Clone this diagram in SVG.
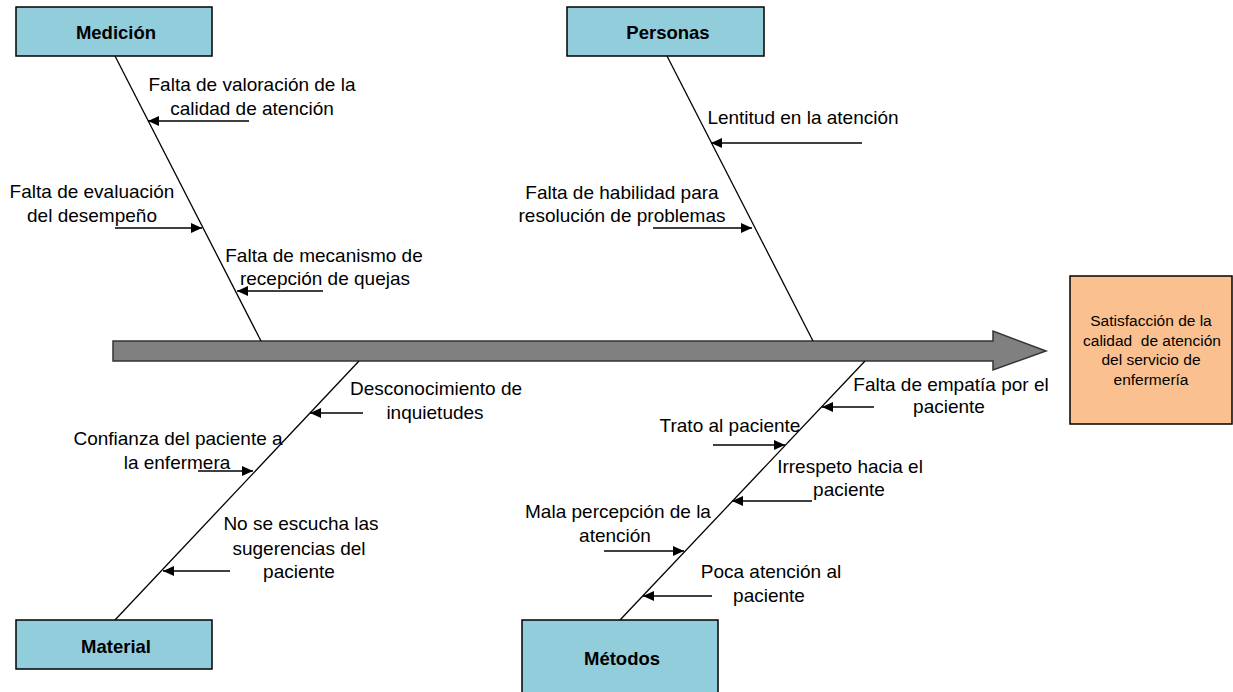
<svg xmlns="http://www.w3.org/2000/svg" width="1233" height="692" viewBox="0 0 1233 692">
<defs>
<marker id="ah" markerUnits="userSpaceOnUse" markerWidth="12" markerHeight="10" refX="11" refY="5" orient="auto">
<path d="M0,0 L11,5 L0,10 Z" fill="#000"/>
</marker>
<style>
.cat{fill:#92CDDC;stroke:#000;stroke-width:1.5}
.ct{font-family:"Liberation Sans",Arial,sans-serif;font-weight:bold;font-size:18.5px;text-anchor:middle;fill:#000}
.t{font-family:"Liberation Sans",Arial,sans-serif;font-size:19px;text-anchor:middle;fill:#000}
.bone{stroke:#000;stroke-width:1.3;fill:none}
.arr{stroke:#000;stroke-width:1.3;fill:none;marker-end:url(#ah)}
.et{font-family:"Liberation Sans",Arial,sans-serif;font-size:15.5px;text-anchor:middle;fill:#000}
</style>
</defs>
<rect width="1233" height="692" fill="#fff"/>

<g id="spine">
<polygon points="113,341 993,341 993,331 1046,351 993,370 993,361 113,361" fill="#808080" stroke="#333" stroke-width="1.5"/>
</g>

<g id="connectors">
<line class="bone" x1="115" y1="56" x2="261" y2="341"/>
<line class="bone" x1="667" y1="56" x2="813" y2="341"/>
<line class="bone" x1="359" y1="361" x2="115" y2="620"/>
<line class="bone" x1="865" y1="361" x2="620" y2="620"/>
<line class="arr" x1="249" y1="121" x2="148" y2="121"/>
<line class="arr" x1="115" y1="228" x2="202" y2="228"/>
<line class="arr" x1="323" y1="291" x2="237" y2="291"/>
<line class="arr" x1="862" y1="143" x2="711" y2="143"/>
<line class="arr" x1="653" y1="228" x2="752" y2="228"/>
<line class="arr" x1="363" y1="413" x2="310" y2="413"/>
<line class="arr" x1="198" y1="471" x2="253" y2="471"/>
<line class="arr" x1="230" y1="571" x2="163" y2="571"/>
<line class="arr" x1="874" y1="407" x2="822" y2="407"/>
<line class="arr" x1="713" y1="445" x2="785" y2="445"/>
<line class="arr" x1="812" y1="501" x2="732" y2="501"/>
<line class="arr" x1="604" y1="551" x2="684" y2="551"/>
<line class="arr" x1="712" y1="596" x2="643" y2="596"/>
</g>

<g id="medicion">
<rect class="cat" x="16" y="7" width="196" height="49"/>
<text class="ct" x="116" y="39">Medición</text>
</g>
<g id="personas">
<rect class="cat" x="567" y="7" width="197" height="49"/>
<text class="ct" x="668" y="39">Personas</text>
</g>
<g id="material">
<rect class="cat" x="16" y="620" width="196" height="49"/>
<text class="ct" x="116" y="653">Material</text>
</g>
<g id="metodos">
<rect class="cat" x="522" y="620" width="196" height="80"/>
<text class="ct" x="622" y="665">Métodos</text>
</g>

<g id="efecto">
<rect x="1070" y="276" width="162" height="148" fill="#FAC090" stroke="#000" stroke-width="1.5"/>
<text class="et" x="1151" y="326">Satisfacción de la</text>
<text class="et" x="1152" y="346" xml:space="preserve">calidad  de atención</text>
<text class="et" x="1151" y="365">del servicio de</text>
<text class="et" x="1151" y="385">enfermería</text>
</g>

<g id="c1"><text class="t" x="252" y="91">Falta de valoración de la</text><text class="t" x="252" y="115">calidad de atención</text></g>
<g id="c2"><text class="t" x="92" y="198">Falta de evaluación</text><text class="t" x="92" y="222">del desempeño</text></g>
<g id="c3"><text class="t" x="324" y="262">Falta de mecanismo de</text><text class="t" x="325" y="285">recepción de quejas</text></g>
<g id="c4"><text class="t" x="803" y="124">Lentitud en la atención</text></g>
<g id="c5"><text class="t" x="622" y="199">Falta de habilidad para</text><text class="t" x="622" y="222">resolución de problemas</text></g>
<g id="c6"><text class="t" x="436" y="395">Desconocimiento de</text><text class="t" x="435" y="419">inquietudes</text></g>
<g id="c7"><text class="t" x="178" y="445">Confianza del paciente a</text><text class="t" x="177" y="469">la enfermera</text></g>
<g id="c8"><text class="t" x="301" y="530">No se escucha las</text><text class="t" x="299" y="555">sugerencias del</text><text class="t" x="299" y="578">paciente</text></g>
<g id="c9"><text class="t" x="951" y="391">Falta de empatía por el</text><text class="t" x="949" y="413">paciente</text></g>
<g id="c10"><text class="t" x="730" y="432">Trato al paciente</text></g>
<g id="c11"><text class="t" x="850" y="473">Irrespeto hacia el</text><text class="t" x="849" y="496">paciente</text></g>
<g id="c12"><text class="t" x="618" y="518">Mala percepción de la</text><text class="t" x="615" y="542">atención</text></g>
<g id="c13"><text class="t" x="771" y="578">Poca atención al</text><text class="t" x="769" y="602">paciente</text></g>
</svg>
